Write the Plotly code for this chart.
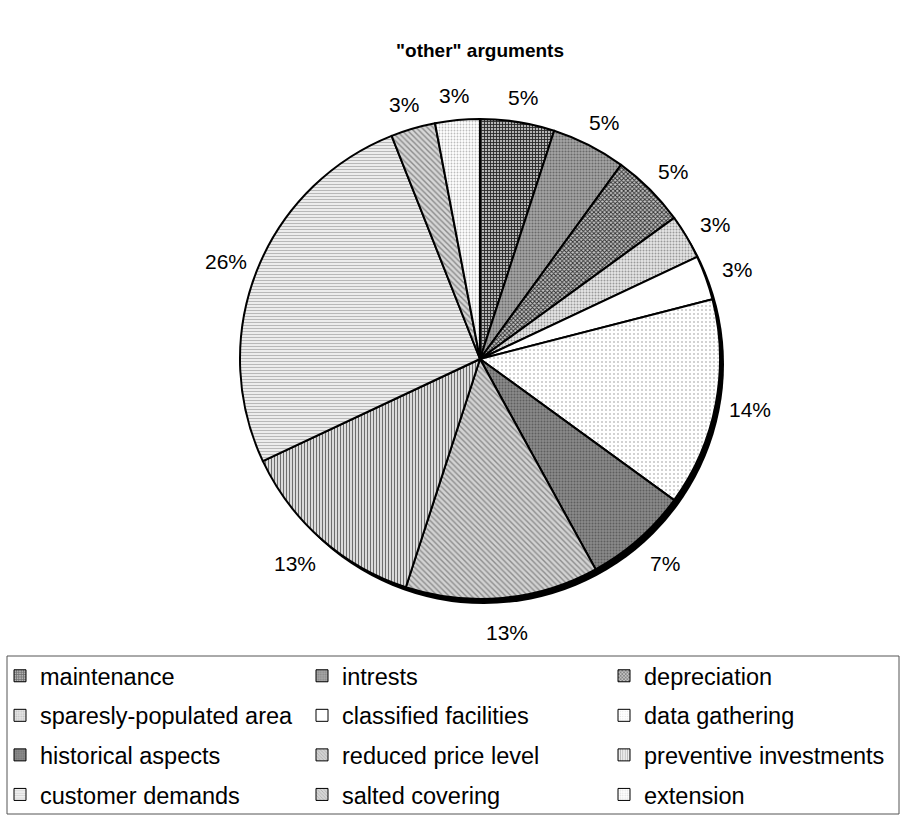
import math
import plotly.graph_objects as go

W, H = 904, 816

categories = [
    "maintenance", "intrests", "depreciation",
    "sparesly-populated area", "classified facilities", "data gathering",
    "historical aspects", "reduced price level", "preventive investments",
    "customer demands", "salted covering", "extension",
]
shares = [5, 5, 5, 3, 3, 14, 7, 13, 13, 26, 3, 3]

# fill styles, one per category (greyscale hatching)
pat_shape = ["+", ".", "x", ".", "", ".", ".", "\\", "|", "-", "\\", "."]
pat_fg = ["#262626", "#6a6a6a", "#2e2e2e", "#9a9a9a", "#ffffff", "#c4c4c4",
          "#5e5e5e", "#8c8c8c", "#6e6e6e", "#b8b8b8", "#8a8a8a", "#bdbdbd"]
pat_bg = ["#b4b4b4", "#a6a6a6", "#c4c4c4", "#e6e6e6", "#ffffff", "#ffffff",
          "#8a8a8a", "#d2d2d2", "#ffffff", "#f2f2f2", "#d6d6d6", "#ffffff"]
pat_size = [3, 3, 3, 3, 4, 4, 3, 4, 3, 3, 4, 3]
pat_sol = [0.5, 0.4, 0.5, 0.35, 0.1, 0.2, 0.35, 0.35, 0.5, 0.4, 0.35, 0.3]

FONT = "Liberation Sans, Arial, sans-serif"

# pie geometry in pixels
cx, cy, r = 480, 359, 240
dom_x = [(cx - r) / W, (cx + r) / W]
dom_y = [1 - (cy + r) / H, 1 - (cy - r) / H]
shx, shy = 4, 5  # drop shadow offset

fig = go.Figure()

# drop shadow under the pie
fig.add_trace(go.Pie(
    values=[1], labels=[" "], sort=False, showlegend=False,
    domain=dict(x=[dom_x[0] + shx / W, dom_x[1] + shx / W],
                y=[dom_y[0] - shy / H, dom_y[1] - shy / H]),
    marker=dict(colors=["#000000"], line=dict(width=0)),
    textinfo="none", hoverinfo="skip",
))

fig.add_trace(go.Pie(
    labels=categories, values=shares, sort=False, direction="clockwise",
    rotation=0, showlegend=False,
    domain=dict(x=dom_x, y=dom_y),
    marker=dict(
        colors=pat_bg,
        line=dict(color="#000000", width=2),
        pattern=dict(shape=pat_shape, fgcolor=pat_fg, bgcolor=pat_bg,
                     size=pat_size, solidity=pat_sol, fillmode="replace"),
    ),
    textinfo="none", automargin=False,
))

# percentage labels just outside each slice, at the slice's mid angle
total = sum(shares)
annotations = []
acc = 0
for v in shares:
    mid = (acc + v / 2) / total * 2 * math.pi
    acc += v
    ux, uy = math.sin(mid), -math.cos(mid)
    dist = r + 14 + 10 * max(0.0, uy)
    px = cx + dist * ux + 19 * ux
    py = cy + dist * uy + 11 * uy
    annotations.append(dict(
        x=px / W, y=1 - py / H, xref="paper", yref="paper",
        text=f"{v}%", showarrow=False, xanchor="center", yanchor="middle",
        font=dict(family=FONT, size=21, color="#000000"),
    ))

# legend entries: three columns, each its own legend
legend_names = ["legend", "legend2", "legend3"]
for i, name in enumerate(categories):
    col = i % 3
    fig.add_trace(go.Bar(
        x=[None], y=[None], name=name, legend=legend_names[col],
        legendgroup=name, showlegend=True, hoverinfo="skip",
        marker=dict(
            color=pat_bg[i],
            line=dict(color="#000000", width=1),
            pattern=dict(shape=pat_shape[i], fgcolor=pat_fg[i],
                         bgcolor=pat_bg[i], size=3, solidity=pat_sol[i]),
        ),
    ))

leg_common = dict(
    orientation="v", yanchor="top", y=1 - 654 / H, xanchor="left",
    font=dict(family=FONT, size=23.5, color="#000000"),
    bgcolor="rgba(0,0,0,0)", borderwidth=0, tracegroupgap=6,
    traceorder="grouped", itemclick=False, itemdoubleclick=False,
)
col_x = [0, 302, 604]

fig.update_layout(
    width=W, height=H,
    margin=dict(l=0, r=0, t=0, b=0, autoexpand=False),
    paper_bgcolor="#ffffff", plot_bgcolor="#ffffff",
    title=dict(text='<b>"other" arguments</b>', x=480 / W, xanchor="center",
               y=1 - 50 / H, yanchor="middle", yref="container",
               font=dict(family=FONT, size=19, color="#000000")),
    xaxis=dict(visible=False), yaxis=dict(visible=False),
    legend=dict(x=col_x[0] / W, **leg_common),
    legend2=dict(x=col_x[1] / W, **leg_common),
    legend3=dict(x=col_x[2] / W, **leg_common),
    annotations=annotations,
    shapes=[dict(type="rect", xref="paper", yref="paper",
                 x0=7 / W, x1=899 / W, y0=1 - 814 / H, y1=1 - 656 / H,
                 line=dict(color="#555555", width=1), fillcolor="rgba(0,0,0,0)",
                 layer="below")],
)

fig.write_html("out.html")
